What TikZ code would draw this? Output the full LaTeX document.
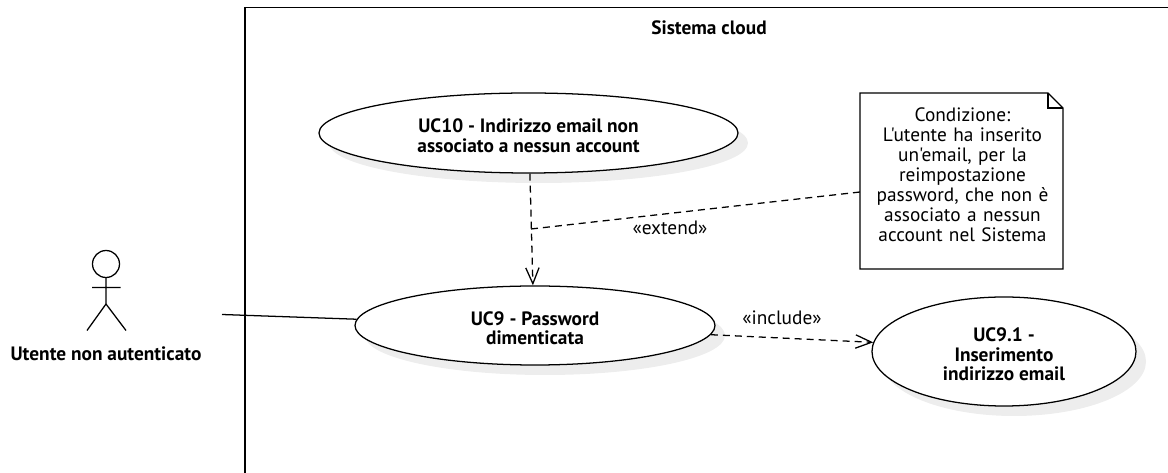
\documentclass[tikz,border=0pt]{standalone}
\usepackage{fontspec}
\setmainfont{PT Sans}[Ligatures=TeXOff]
\usetikzlibrary{arrows.meta,positioning,shapes,shadows,calc}
\newcommand{\ucgap}{\rule{0pt}{14.5pt}}

\begin{document}
\begin{tikzpicture}[x=0.75pt, y=-0.75pt,
                    line/.style = {draw=black, line width=0.95pt},
                    usecase/.style = {ellipse, line, fill=white, font=\fontsize{14.5}{14.4}\selectfont\bfseries, align=center, inner sep=0pt,
                            drop shadow={shadow xshift=7.5pt, shadow yshift=-7.5pt, fill=black!7, draw=none, opacity=1}},
                    dep/.style = {line, dash pattern=on 5.25pt off 3.75pt},
                    depend/.style = {dep, -{Straight Barb[length=12pt, width=10pt]}},
                    label/.style = {inner sep=0pt, font=\fontsize{14.5}{15}\selectfont}]

                \useasboundingbox (0,0) rectangle (1168,473);
                \draw [line] (245,473) |- (1168,7.5);
                \node [label, font=\fontsize{14.5}{15}\selectfont\bfseries] (system) at (709,28) {Sistema cloud};

                % use cases
                \node [usecase, minimum width=419*0.75pt, minimum height=80*0.75pt] (uc10) at (528.5,133) {\ucgap UC10 - Indirizzo email non\\associato a nessun account};
                \node [usecase, minimum width=360*0.75pt, minimum height=79*0.75pt] (uc9) at (535,325.5) {\ucgap UC9 - Password\\dimenticata};
                \node [usecase, minimum width=264*0.75pt, minimum height=109*0.75pt] (uc91) at (1004,351.5) {\ucgap UC9.1 -\\Inserimento\\indirizzo email};

                % actor
                \node [circle, line, minimum size=27*0.75pt, inner sep=0pt] (head) at (106,264) {};
                \coordinate (hip) at (106,304);
                \coordinate (footl) at (87,330.5);
                \coordinate (footr) at (126,330.5);
                \coordinate (handl) at (92,287.5);
                \coordinate (handr) at (120.5,287.5);
                \draw [line] (head) -- (hip) -- (footl) (hip) -- (footr) (handl) -- (handr);
                \node [label, font=\fontsize{14.5}{15}\selectfont\bfseries] (actor) at (106,353.5) {Utente non autenticato};
                \coordinate (actorend) at (222,314.5);
                \draw [line] (actorend) -- (uc9);

                % note
                \node [label, text width=190*0.75pt, align=center, anchor=north] (notetext) at (962.5,107.5) {Condizione:\\L'utente ha inserito\\un'email, per la\\reimpostazione\\password, che non è\\associato a nessun\\account nel Sistema};
                \coordinate (nw) at (860,93);
                \coordinate (ne) at (1063,93);
                \coordinate (se) at (1063,269);
                \coordinate (sw) at (860,269);
                \draw [line] (nw) -- ($(ne)+(-15,0)$) -- ($(ne)+(0,15)$) -- (se) -- (sw) -- cycle;
                \draw [line] ($(ne)+(-15,0)$) |- ($(ne)+(0,15)$);

                % dependencies
                \coordinate (branch) at (531,229);
                \coordinate (noteleft) at (860,192);
                \draw [depend] (uc10.-88) -- (uc9.93);
                \draw [dep] (branch) -- (noteleft);
                \node [label] (extend) at (670,228) {«extend»};
                \draw [depend] (uc9.-3) -- (uc91.176.75);
                \node [label] (include) at (782,318) {«include»};
            \end{tikzpicture}
\end{document}
